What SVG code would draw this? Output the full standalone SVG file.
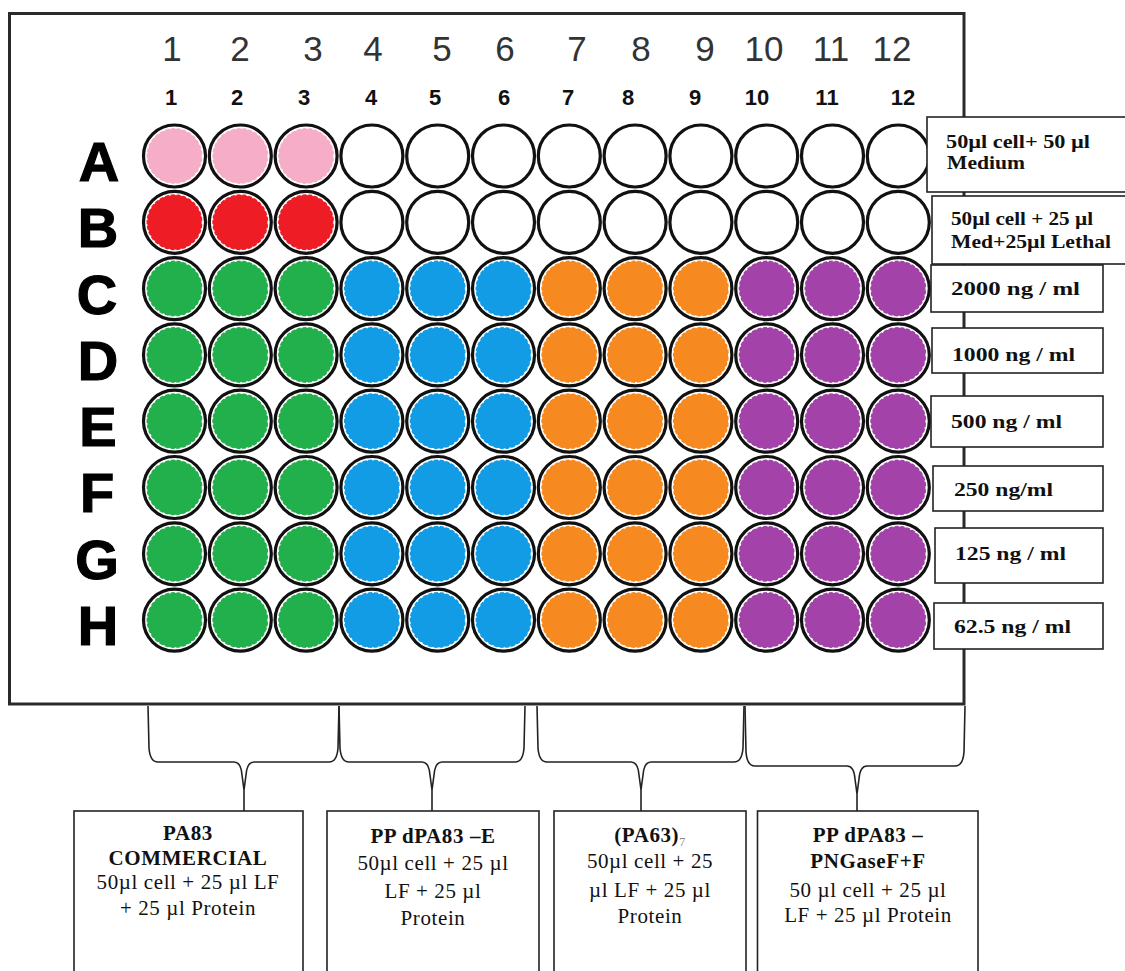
<svg xmlns="http://www.w3.org/2000/svg" width="1125" height="971" viewBox="0 0 1125 971">
<style>
.plate{fill:#fff;stroke:#2a2a2a;stroke-width:3}
.well{fill:#fff;stroke:#111;stroke-width:3.2}
.ring{fill:none;stroke:#fff;stroke-width:1.6;stroke-dasharray:2 4}
.pink{fill:#F6AEC8}.red{fill:#EE1D25}.green{fill:#21B04B}.blue{fill:#139CE6}.orange{fill:#F6891F}.purple{fill:#A342A9}
.hdr{font-family:"Liberation Sans",Arial,sans-serif;font-size:35px;fill:#333;text-anchor:middle}
.hdrb{font-family:"Liberation Sans",Arial,sans-serif;font-size:22px;font-weight:bold;fill:#111;text-anchor:middle}
.row{font-family:"Liberation Sans",Arial,sans-serif;font-size:56px;font-weight:bold;fill:#000;stroke:#000;stroke-width:1.2;text-anchor:middle}
.box{fill:#fff;stroke:#222;stroke-width:1.6}
.lbl{font-family:"Liberation Serif","Times New Roman",serif;font-size:18px;font-weight:bold;fill:#111}
.bt{font-family:"Liberation Serif","Times New Roman",serif;font-size:21px;fill:#111;text-anchor:middle;letter-spacing:0.6px}
.bb{font-weight:bold}
.conn{fill:none;stroke:#222;stroke-width:1.6}
</style>
<defs>
<circle id="wo" r="31"/>
</defs>
<g id="plate">
<rect class="plate" x="9.5" y="13.5" width="954.5" height="690.5"/>
</g>
<g id="col-headers">
<text class="hdr" x="172" y="61">1</text><text class="hdr" x="240" y="61">2</text><text class="hdr" x="313" y="61">3</text><text class="hdr" x="373" y="61">4</text><text class="hdr" x="442" y="61">5</text><text class="hdr" x="505" y="61">6</text><text class="hdr" x="577" y="61">7</text><text class="hdr" x="641" y="61">8</text><text class="hdr" x="705" y="61">9</text><text class="hdr" x="764" y="61">10</text><text class="hdr" x="831" y="61">11</text><text class="hdr" x="892" y="61">12</text>
<text class="hdrb" x="171" y="105">1</text><text class="hdrb" x="237" y="105">2</text><text class="hdrb" x="304" y="105">3</text><text class="hdrb" x="371" y="105">4</text><text class="hdrb" x="435" y="105">5</text><text class="hdrb" x="504" y="105">6</text><text class="hdrb" x="568" y="105">7</text><text class="hdrb" x="628" y="105">8</text><text class="hdrb" x="695" y="105">9</text><text class="hdrb" x="757" y="105">10</text><text class="hdrb" x="827" y="105">11</text><text class="hdrb" x="903" y="105">12</text>
</g>
<g id="row-labels">
<text class="row" x="99" y="181">A</text><text class="row" x="98" y="247">B</text><text class="row" x="97" y="314">C</text><text class="row" x="98" y="380">D</text><text class="row" x="98" y="446">E</text><text class="row" x="97" y="512">F</text><text class="row" x="97" y="579">G</text><text class="row" x="98" y="645">H</text>
</g>
<g id="wells">
<g id="well-A1"><circle class="well" cx="174.5" cy="156" r="31"/><circle class="pink" cx="174.5" cy="156" r="28"/><circle class="ring" cx="174.5" cy="156" r="28"/></g>
<g id="well-A2"><circle class="well" cx="240.3" cy="156" r="31"/><circle class="pink" cx="240.3" cy="156" r="28"/><circle class="ring" cx="240.3" cy="156" r="28"/></g>
<g id="well-A3"><circle class="well" cx="306.1" cy="156" r="31"/><circle class="pink" cx="306.1" cy="156" r="28"/><circle class="ring" cx="306.1" cy="156" r="28"/></g>
<g id="well-A4"><circle class="well" cx="371.9" cy="156" r="31"/></g>
<g id="well-A5"><circle class="well" cx="437.7" cy="156" r="31"/></g>
<g id="well-A6"><circle class="well" cx="503.5" cy="156" r="31"/></g>
<g id="well-A7"><circle class="well" cx="569.3" cy="156" r="31"/></g>
<g id="well-A8"><circle class="well" cx="635.1" cy="156" r="31"/></g>
<g id="well-A9"><circle class="well" cx="700.9" cy="156" r="31"/></g>
<g id="well-A10"><circle class="well" cx="766.7" cy="156" r="31"/></g>
<g id="well-A11"><circle class="well" cx="832.5" cy="156" r="31"/></g>
<g id="well-A12"><circle class="well" cx="898.3" cy="156" r="31"/></g>
<g id="well-B1"><circle class="well" cx="174.5" cy="222.3" r="31"/><circle class="red" cx="174.5" cy="222.3" r="28"/><circle class="ring" cx="174.5" cy="222.3" r="28"/></g>
<g id="well-B2"><circle class="well" cx="240.3" cy="222.3" r="31"/><circle class="red" cx="240.3" cy="222.3" r="28"/><circle class="ring" cx="240.3" cy="222.3" r="28"/></g>
<g id="well-B3"><circle class="well" cx="306.1" cy="222.3" r="31"/><circle class="red" cx="306.1" cy="222.3" r="28"/><circle class="ring" cx="306.1" cy="222.3" r="28"/></g>
<g id="well-B4"><circle class="well" cx="371.9" cy="222.3" r="31"/></g>
<g id="well-B5"><circle class="well" cx="437.7" cy="222.3" r="31"/></g>
<g id="well-B6"><circle class="well" cx="503.5" cy="222.3" r="31"/></g>
<g id="well-B7"><circle class="well" cx="569.3" cy="222.3" r="31"/></g>
<g id="well-B8"><circle class="well" cx="635.1" cy="222.3" r="31"/></g>
<g id="well-B9"><circle class="well" cx="700.9" cy="222.3" r="31"/></g>
<g id="well-B10"><circle class="well" cx="766.7" cy="222.3" r="31"/></g>
<g id="well-B11"><circle class="well" cx="832.5" cy="222.3" r="31"/></g>
<g id="well-B12"><circle class="well" cx="898.3" cy="222.3" r="31"/></g>
<g id="well-C1"><circle class="well" cx="174.5" cy="288.6" r="31"/><circle class="green" cx="174.5" cy="288.6" r="28"/><circle class="ring" cx="174.5" cy="288.6" r="28"/></g>
<g id="well-C2"><circle class="well" cx="240.3" cy="288.6" r="31"/><circle class="green" cx="240.3" cy="288.6" r="28"/><circle class="ring" cx="240.3" cy="288.6" r="28"/></g>
<g id="well-C3"><circle class="well" cx="306.1" cy="288.6" r="31"/><circle class="green" cx="306.1" cy="288.6" r="28"/><circle class="ring" cx="306.1" cy="288.6" r="28"/></g>
<g id="well-C4"><circle class="well" cx="371.9" cy="288.6" r="31"/><circle class="blue" cx="371.9" cy="288.6" r="28"/><circle class="ring" cx="371.9" cy="288.6" r="28"/></g>
<g id="well-C5"><circle class="well" cx="437.7" cy="288.6" r="31"/><circle class="blue" cx="437.7" cy="288.6" r="28"/><circle class="ring" cx="437.7" cy="288.6" r="28"/></g>
<g id="well-C6"><circle class="well" cx="503.5" cy="288.6" r="31"/><circle class="blue" cx="503.5" cy="288.6" r="28"/><circle class="ring" cx="503.5" cy="288.6" r="28"/></g>
<g id="well-C7"><circle class="well" cx="569.3" cy="288.6" r="31"/><circle class="orange" cx="569.3" cy="288.6" r="28"/><circle class="ring" cx="569.3" cy="288.6" r="28"/></g>
<g id="well-C8"><circle class="well" cx="635.1" cy="288.6" r="31"/><circle class="orange" cx="635.1" cy="288.6" r="28"/><circle class="ring" cx="635.1" cy="288.6" r="28"/></g>
<g id="well-C9"><circle class="well" cx="700.9" cy="288.6" r="31"/><circle class="orange" cx="700.9" cy="288.6" r="28"/><circle class="ring" cx="700.9" cy="288.6" r="28"/></g>
<g id="well-C10"><circle class="well" cx="766.7" cy="288.6" r="31"/><circle class="purple" cx="766.7" cy="288.6" r="28"/><circle class="ring" cx="766.7" cy="288.6" r="28"/></g>
<g id="well-C11"><circle class="well" cx="832.5" cy="288.6" r="31"/><circle class="purple" cx="832.5" cy="288.6" r="28"/><circle class="ring" cx="832.5" cy="288.6" r="28"/></g>
<g id="well-C12"><circle class="well" cx="898.3" cy="288.6" r="31"/><circle class="purple" cx="898.3" cy="288.6" r="28"/><circle class="ring" cx="898.3" cy="288.6" r="28"/></g>
<g id="well-D1"><circle class="well" cx="174.5" cy="354.9" r="31"/><circle class="green" cx="174.5" cy="354.9" r="28"/><circle class="ring" cx="174.5" cy="354.9" r="28"/></g>
<g id="well-D2"><circle class="well" cx="240.3" cy="354.9" r="31"/><circle class="green" cx="240.3" cy="354.9" r="28"/><circle class="ring" cx="240.3" cy="354.9" r="28"/></g>
<g id="well-D3"><circle class="well" cx="306.1" cy="354.9" r="31"/><circle class="green" cx="306.1" cy="354.9" r="28"/><circle class="ring" cx="306.1" cy="354.9" r="28"/></g>
<g id="well-D4"><circle class="well" cx="371.9" cy="354.9" r="31"/><circle class="blue" cx="371.9" cy="354.9" r="28"/><circle class="ring" cx="371.9" cy="354.9" r="28"/></g>
<g id="well-D5"><circle class="well" cx="437.7" cy="354.9" r="31"/><circle class="blue" cx="437.7" cy="354.9" r="28"/><circle class="ring" cx="437.7" cy="354.9" r="28"/></g>
<g id="well-D6"><circle class="well" cx="503.5" cy="354.9" r="31"/><circle class="blue" cx="503.5" cy="354.9" r="28"/><circle class="ring" cx="503.5" cy="354.9" r="28"/></g>
<g id="well-D7"><circle class="well" cx="569.3" cy="354.9" r="31"/><circle class="orange" cx="569.3" cy="354.9" r="28"/><circle class="ring" cx="569.3" cy="354.9" r="28"/></g>
<g id="well-D8"><circle class="well" cx="635.1" cy="354.9" r="31"/><circle class="orange" cx="635.1" cy="354.9" r="28"/><circle class="ring" cx="635.1" cy="354.9" r="28"/></g>
<g id="well-D9"><circle class="well" cx="700.9" cy="354.9" r="31"/><circle class="orange" cx="700.9" cy="354.9" r="28"/><circle class="ring" cx="700.9" cy="354.9" r="28"/></g>
<g id="well-D10"><circle class="well" cx="766.7" cy="354.9" r="31"/><circle class="purple" cx="766.7" cy="354.9" r="28"/><circle class="ring" cx="766.7" cy="354.9" r="28"/></g>
<g id="well-D11"><circle class="well" cx="832.5" cy="354.9" r="31"/><circle class="purple" cx="832.5" cy="354.9" r="28"/><circle class="ring" cx="832.5" cy="354.9" r="28"/></g>
<g id="well-D12"><circle class="well" cx="898.3" cy="354.9" r="31"/><circle class="purple" cx="898.3" cy="354.9" r="28"/><circle class="ring" cx="898.3" cy="354.9" r="28"/></g>
<g id="well-E1"><circle class="well" cx="174.5" cy="421.2" r="31"/><circle class="green" cx="174.5" cy="421.2" r="28"/><circle class="ring" cx="174.5" cy="421.2" r="28"/></g>
<g id="well-E2"><circle class="well" cx="240.3" cy="421.2" r="31"/><circle class="green" cx="240.3" cy="421.2" r="28"/><circle class="ring" cx="240.3" cy="421.2" r="28"/></g>
<g id="well-E3"><circle class="well" cx="306.1" cy="421.2" r="31"/><circle class="green" cx="306.1" cy="421.2" r="28"/><circle class="ring" cx="306.1" cy="421.2" r="28"/></g>
<g id="well-E4"><circle class="well" cx="371.9" cy="421.2" r="31"/><circle class="blue" cx="371.9" cy="421.2" r="28"/><circle class="ring" cx="371.9" cy="421.2" r="28"/></g>
<g id="well-E5"><circle class="well" cx="437.7" cy="421.2" r="31"/><circle class="blue" cx="437.7" cy="421.2" r="28"/><circle class="ring" cx="437.7" cy="421.2" r="28"/></g>
<g id="well-E6"><circle class="well" cx="503.5" cy="421.2" r="31"/><circle class="blue" cx="503.5" cy="421.2" r="28"/><circle class="ring" cx="503.5" cy="421.2" r="28"/></g>
<g id="well-E7"><circle class="well" cx="569.3" cy="421.2" r="31"/><circle class="orange" cx="569.3" cy="421.2" r="28"/><circle class="ring" cx="569.3" cy="421.2" r="28"/></g>
<g id="well-E8"><circle class="well" cx="635.1" cy="421.2" r="31"/><circle class="orange" cx="635.1" cy="421.2" r="28"/><circle class="ring" cx="635.1" cy="421.2" r="28"/></g>
<g id="well-E9"><circle class="well" cx="700.9" cy="421.2" r="31"/><circle class="orange" cx="700.9" cy="421.2" r="28"/><circle class="ring" cx="700.9" cy="421.2" r="28"/></g>
<g id="well-E10"><circle class="well" cx="766.7" cy="421.2" r="31"/><circle class="purple" cx="766.7" cy="421.2" r="28"/><circle class="ring" cx="766.7" cy="421.2" r="28"/></g>
<g id="well-E11"><circle class="well" cx="832.5" cy="421.2" r="31"/><circle class="purple" cx="832.5" cy="421.2" r="28"/><circle class="ring" cx="832.5" cy="421.2" r="28"/></g>
<g id="well-E12"><circle class="well" cx="898.3" cy="421.2" r="31"/><circle class="purple" cx="898.3" cy="421.2" r="28"/><circle class="ring" cx="898.3" cy="421.2" r="28"/></g>
<g id="well-F1"><circle class="well" cx="174.5" cy="487.5" r="31"/><circle class="green" cx="174.5" cy="487.5" r="28"/><circle class="ring" cx="174.5" cy="487.5" r="28"/></g>
<g id="well-F2"><circle class="well" cx="240.3" cy="487.5" r="31"/><circle class="green" cx="240.3" cy="487.5" r="28"/><circle class="ring" cx="240.3" cy="487.5" r="28"/></g>
<g id="well-F3"><circle class="well" cx="306.1" cy="487.5" r="31"/><circle class="green" cx="306.1" cy="487.5" r="28"/><circle class="ring" cx="306.1" cy="487.5" r="28"/></g>
<g id="well-F4"><circle class="well" cx="371.9" cy="487.5" r="31"/><circle class="blue" cx="371.9" cy="487.5" r="28"/><circle class="ring" cx="371.9" cy="487.5" r="28"/></g>
<g id="well-F5"><circle class="well" cx="437.7" cy="487.5" r="31"/><circle class="blue" cx="437.7" cy="487.5" r="28"/><circle class="ring" cx="437.7" cy="487.5" r="28"/></g>
<g id="well-F6"><circle class="well" cx="503.5" cy="487.5" r="31"/><circle class="blue" cx="503.5" cy="487.5" r="28"/><circle class="ring" cx="503.5" cy="487.5" r="28"/></g>
<g id="well-F7"><circle class="well" cx="569.3" cy="487.5" r="31"/><circle class="orange" cx="569.3" cy="487.5" r="28"/><circle class="ring" cx="569.3" cy="487.5" r="28"/></g>
<g id="well-F8"><circle class="well" cx="635.1" cy="487.5" r="31"/><circle class="orange" cx="635.1" cy="487.5" r="28"/><circle class="ring" cx="635.1" cy="487.5" r="28"/></g>
<g id="well-F9"><circle class="well" cx="700.9" cy="487.5" r="31"/><circle class="orange" cx="700.9" cy="487.5" r="28"/><circle class="ring" cx="700.9" cy="487.5" r="28"/></g>
<g id="well-F10"><circle class="well" cx="766.7" cy="487.5" r="31"/><circle class="purple" cx="766.7" cy="487.5" r="28"/><circle class="ring" cx="766.7" cy="487.5" r="28"/></g>
<g id="well-F11"><circle class="well" cx="832.5" cy="487.5" r="31"/><circle class="purple" cx="832.5" cy="487.5" r="28"/><circle class="ring" cx="832.5" cy="487.5" r="28"/></g>
<g id="well-F12"><circle class="well" cx="898.3" cy="487.5" r="31"/><circle class="purple" cx="898.3" cy="487.5" r="28"/><circle class="ring" cx="898.3" cy="487.5" r="28"/></g>
<g id="well-G1"><circle class="well" cx="174.5" cy="553.8" r="31"/><circle class="green" cx="174.5" cy="553.8" r="28"/><circle class="ring" cx="174.5" cy="553.8" r="28"/></g>
<g id="well-G2"><circle class="well" cx="240.3" cy="553.8" r="31"/><circle class="green" cx="240.3" cy="553.8" r="28"/><circle class="ring" cx="240.3" cy="553.8" r="28"/></g>
<g id="well-G3"><circle class="well" cx="306.1" cy="553.8" r="31"/><circle class="green" cx="306.1" cy="553.8" r="28"/><circle class="ring" cx="306.1" cy="553.8" r="28"/></g>
<g id="well-G4"><circle class="well" cx="371.9" cy="553.8" r="31"/><circle class="blue" cx="371.9" cy="553.8" r="28"/><circle class="ring" cx="371.9" cy="553.8" r="28"/></g>
<g id="well-G5"><circle class="well" cx="437.7" cy="553.8" r="31"/><circle class="blue" cx="437.7" cy="553.8" r="28"/><circle class="ring" cx="437.7" cy="553.8" r="28"/></g>
<g id="well-G6"><circle class="well" cx="503.5" cy="553.8" r="31"/><circle class="blue" cx="503.5" cy="553.8" r="28"/><circle class="ring" cx="503.5" cy="553.8" r="28"/></g>
<g id="well-G7"><circle class="well" cx="569.3" cy="553.8" r="31"/><circle class="orange" cx="569.3" cy="553.8" r="28"/><circle class="ring" cx="569.3" cy="553.8" r="28"/></g>
<g id="well-G8"><circle class="well" cx="635.1" cy="553.8" r="31"/><circle class="orange" cx="635.1" cy="553.8" r="28"/><circle class="ring" cx="635.1" cy="553.8" r="28"/></g>
<g id="well-G9"><circle class="well" cx="700.9" cy="553.8" r="31"/><circle class="orange" cx="700.9" cy="553.8" r="28"/><circle class="ring" cx="700.9" cy="553.8" r="28"/></g>
<g id="well-G10"><circle class="well" cx="766.7" cy="553.8" r="31"/><circle class="purple" cx="766.7" cy="553.8" r="28"/><circle class="ring" cx="766.7" cy="553.8" r="28"/></g>
<g id="well-G11"><circle class="well" cx="832.5" cy="553.8" r="31"/><circle class="purple" cx="832.5" cy="553.8" r="28"/><circle class="ring" cx="832.5" cy="553.8" r="28"/></g>
<g id="well-G12"><circle class="well" cx="898.3" cy="553.8" r="31"/><circle class="purple" cx="898.3" cy="553.8" r="28"/><circle class="ring" cx="898.3" cy="553.8" r="28"/></g>
<g id="well-H1"><circle class="well" cx="174.5" cy="620.1" r="31"/><circle class="green" cx="174.5" cy="620.1" r="28"/><circle class="ring" cx="174.5" cy="620.1" r="28"/></g>
<g id="well-H2"><circle class="well" cx="240.3" cy="620.1" r="31"/><circle class="green" cx="240.3" cy="620.1" r="28"/><circle class="ring" cx="240.3" cy="620.1" r="28"/></g>
<g id="well-H3"><circle class="well" cx="306.1" cy="620.1" r="31"/><circle class="green" cx="306.1" cy="620.1" r="28"/><circle class="ring" cx="306.1" cy="620.1" r="28"/></g>
<g id="well-H4"><circle class="well" cx="371.9" cy="620.1" r="31"/><circle class="blue" cx="371.9" cy="620.1" r="28"/><circle class="ring" cx="371.9" cy="620.1" r="28"/></g>
<g id="well-H5"><circle class="well" cx="437.7" cy="620.1" r="31"/><circle class="blue" cx="437.7" cy="620.1" r="28"/><circle class="ring" cx="437.7" cy="620.1" r="28"/></g>
<g id="well-H6"><circle class="well" cx="503.5" cy="620.1" r="31"/><circle class="blue" cx="503.5" cy="620.1" r="28"/><circle class="ring" cx="503.5" cy="620.1" r="28"/></g>
<g id="well-H7"><circle class="well" cx="569.3" cy="620.1" r="31"/><circle class="orange" cx="569.3" cy="620.1" r="28"/><circle class="ring" cx="569.3" cy="620.1" r="28"/></g>
<g id="well-H8"><circle class="well" cx="635.1" cy="620.1" r="31"/><circle class="orange" cx="635.1" cy="620.1" r="28"/><circle class="ring" cx="635.1" cy="620.1" r="28"/></g>
<g id="well-H9"><circle class="well" cx="700.9" cy="620.1" r="31"/><circle class="orange" cx="700.9" cy="620.1" r="28"/><circle class="ring" cx="700.9" cy="620.1" r="28"/></g>
<g id="well-H10"><circle class="well" cx="766.7" cy="620.1" r="31"/><circle class="purple" cx="766.7" cy="620.1" r="28"/><circle class="ring" cx="766.7" cy="620.1" r="28"/></g>
<g id="well-H11"><circle class="well" cx="832.5" cy="620.1" r="31"/><circle class="purple" cx="832.5" cy="620.1" r="28"/><circle class="ring" cx="832.5" cy="620.1" r="28"/></g>
<g id="well-H12"><circle class="well" cx="898.3" cy="620.1" r="31"/><circle class="purple" cx="898.3" cy="620.1" r="28"/><circle class="ring" cx="898.3" cy="620.1" r="28"/></g>
</g>
<g id="connectors">
<path class="conn" d="M148,706 L149,748 Q150,762 158,762 L234,762 Q241,762 242,775 L244,790 M339,706 L338,748 Q337,762 329,762 L254,762 Q247,762 246,775 L244,790 L244,811"/>
<path class="conn" d="M339,706 L340,748 Q341,762 349,762 L422,762 Q429,762 430,775 L432,790 M525,706 L524,748 Q523,762 515,762 L442,762 Q435,762 434,775 L432,790 L432,811"/>
<path class="conn" d="M537,706 L538,748 Q539,762 547,762 L631,762 Q638,762 639,775 L641,790 M744,706 L743,748 Q742,762 734,762 L651,762 Q644,762 643,775 L641,790 L641,811"/>
<path class="conn" d="M745,706 L746,752 Q747,766 755,766 L847,766 Q854,766 855,779 L857,794 M965,706 L964,752 Q963,766 955,766 L867,766 Q860,766 859,779 L857,794 L857,811"/>
</g>
<g id="label-A">
<rect class="box" x="927" y="117" width="200" height="75"/>
<text class="lbl" x="946" y="148" textLength="144" lengthAdjust="spacingAndGlyphs">50µl cell+ 50 µl</text>
<text class="lbl" x="947" y="169" textLength="78" lengthAdjust="spacingAndGlyphs">Medium</text>
</g>
<g id="label-B">
<rect class="box" x="932" y="196" width="195" height="68"/>
<text class="lbl" x="951" y="225" textLength="142" lengthAdjust="spacingAndGlyphs">50µl cell + 25 µl</text>
<text class="lbl" x="951" y="248" textLength="160" lengthAdjust="spacingAndGlyphs">Med+25µl Lethal</text>
</g>
<g id="label-C">
<rect class="box" x="931" y="265" width="172" height="47"/>
<text class="lbl" x="951" y="295" textLength="129" lengthAdjust="spacingAndGlyphs">2000  ng / ml</text>
</g>
<g id="label-D">
<rect class="box" x="932" y="328" width="171" height="45"/>
<text class="lbl" x="952" y="361" textLength="123" lengthAdjust="spacingAndGlyphs">1000 ng / ml</text>
</g>
<g id="label-E">
<rect class="box" x="931" y="396" width="172" height="51"/>
<text class="lbl" x="951" y="428" textLength="111" lengthAdjust="spacingAndGlyphs">500 ng / ml</text>
</g>
<g id="label-F">
<rect class="box" x="933" y="466" width="170" height="45"/>
<text class="lbl" x="954" y="496" textLength="99" lengthAdjust="spacingAndGlyphs">250 ng/ml</text>
</g>
<g id="label-G">
<rect class="box" x="935" y="528" width="168" height="55"/>
<text class="lbl" x="955" y="560" textLength="111" lengthAdjust="spacingAndGlyphs">125 ng / ml</text>
</g>
<g id="label-H">
<rect class="box" x="934" y="603" width="169" height="46"/>
<text class="lbl" x="954" y="633" textLength="117" lengthAdjust="spacingAndGlyphs">62.5 ng / ml</text>
</g>
<g id="box-PA83">
<rect class="box" x="74" y="811" width="229" height="180"/>
<text class="bt bb" x="188" y="840">PA83</text>
<text class="bt bb" x="188" y="865">COMMERCIAL</text>
<text class="bt" x="188" y="889">50µl cell + 25 µl LF</text>
<text class="bt" x="188" y="915">+ 25 µl Protein</text>
</g>
<g id="box-PPdPA83E">
<rect class="box" x="327" y="811" width="212" height="180"/>
<text class="bt bb" x="433" y="843">PP dPA83 –E</text>
<text class="bt" x="433" y="870">50µl cell + 25 µl</text>
<text class="bt" x="433" y="898">LF + 25 µl</text>
<text class="bt" x="433" y="925">Protein</text>
</g>
<g id="box-PA63">
<rect class="box" x="554" y="811" width="192" height="180"/>
<text class="bt bb" x="650" y="842">(PA63)<tspan font-size="12" font-weight="normal" fill="#888" dy="4">7</tspan></text>
<text class="bt" x="650" y="868">50µl cell + 25</text>
<text class="bt" x="650" y="897">µl LF + 25 µl</text>
<text class="bt" x="650" y="923">Protein</text>
</g>
<g id="box-PNGase">
<rect class="box" x="757.5" y="811" width="220.5" height="180"/>
<text class="bt bb" x="868" y="842">PP dPA83 –</text>
<text class="bt bb" x="868" y="868">PNGaseF+F</text>
<text class="bt" x="868" y="897">50 µl cell + 25 µl</text>
<text class="bt" x="868" y="922">LF + 25 µl Protein</text>
</g>
</svg>
